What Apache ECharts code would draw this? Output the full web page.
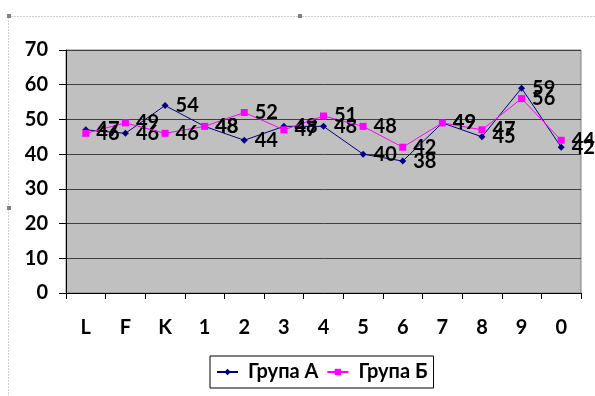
<!DOCTYPE html>
<html><head><meta charset="utf-8">
<script src="https://cdn.jsdelivr.net/npm/echarts@6/dist/echarts.min.js"></script>
<style>html,body{margin:0;padding:0;background:#fff}#c{width:595px;height:396px}</style>
</head><body><div id="c"></div>
<script>
const categories = ['L','F','K','1','2','3','4','5','6','7','8','9','0'];
const groupA = [47,46,54,48,44,48,48,40,38,49,45,59,42];
const groupB = [46,49,46,48,52,47,51,48,42,49,47,56,44];
const yTicks = {min:0, max:70, interval:10};

const chart = echarts.init(document.getElementById('c'));
const FONT = 'Lato';
const FS = 20;
const lbl = {show:true, position:'right', distance:7, color:'#000', fontFamily:FONT, fontWeight:'bold', fontSize:FS};
chart.setOption({
  animation:false,
  backgroundColor:'#fff',
  grid:{left:66, right:14, top:50, bottom:103, show:true, backgroundColor:'#c0c0c0', borderColor:'#808080', borderWidth:1},
  xAxis:{type:'category', data:categories, boundaryGap:true,
    axisLine:{lineStyle:{color:'#000', width:1}},
    axisTick:{show:true, inside:false, length:6, lineStyle:{color:'#000'}},
    axisLabel:{color:'#000', fontFamily:FONT, fontWeight:'bold', fontSize:FS, margin:25},
    splitLine:{show:false}},
  yAxis:{type:'value', min:yTicks.min, max:yTicks.max, interval:yTicks.interval,
    axisLine:{show:true, lineStyle:{color:'#000', width:1}},
    axisTick:{show:true, length:7, lineStyle:{color:'#000'}},
    axisLabel:{color:'#000', fontFamily:FONT, fontWeight:'bold', fontSize:FS, margin:18},
    splitLine:{show:true, lineStyle:{color:'#404040', width:1}}},
  legend:{top:356, left:210, itemWidth:21, itemHeight:8, itemGap:8,
    padding:[6,6,6,6],
    borderColor:'#000', borderWidth:1, backgroundColor:'#fff',
    textStyle:{color:'#000', fontFamily:FONT, fontWeight:'bold', fontSize:FS, padding:[0,3,0,5]},
    data:['Група А','Група Б']},
  series:[
    {name:'Група А', type:'line', data:groupA, symbol:'diamond', symbolSize:7,
      lineStyle:{color:'#000080', width:1}, itemStyle:{color:'#000080'}, label:lbl, z:2},
    {name:'Група Б', type:'line', data:groupB, symbol:'rect', symbolSize:7,
      lineStyle:{color:'#ff00ff', width:1}, itemStyle:{color:'#ff00ff'}, label:lbl, z:3}
  ],
  graphic:[
    {type:'rect', shape:{x:8.5, y:16.5, width:600, height:400}, style:{fill:'none', stroke:'#a0a0a0', lineWidth:1, lineDash:[1,2]}, silent:true},
    {type:'rect', shape:{x:7, y:14, width:4, height:4}, style:{fill:'#808080'}},
    {type:'rect', shape:{x:298, y:14, width:4, height:4}, style:{fill:'#808080'}},
    {type:'rect', shape:{x:7, y:206, width:4, height:4}, style:{fill:'#808080'}}
  ]
});
</script></body></html>
